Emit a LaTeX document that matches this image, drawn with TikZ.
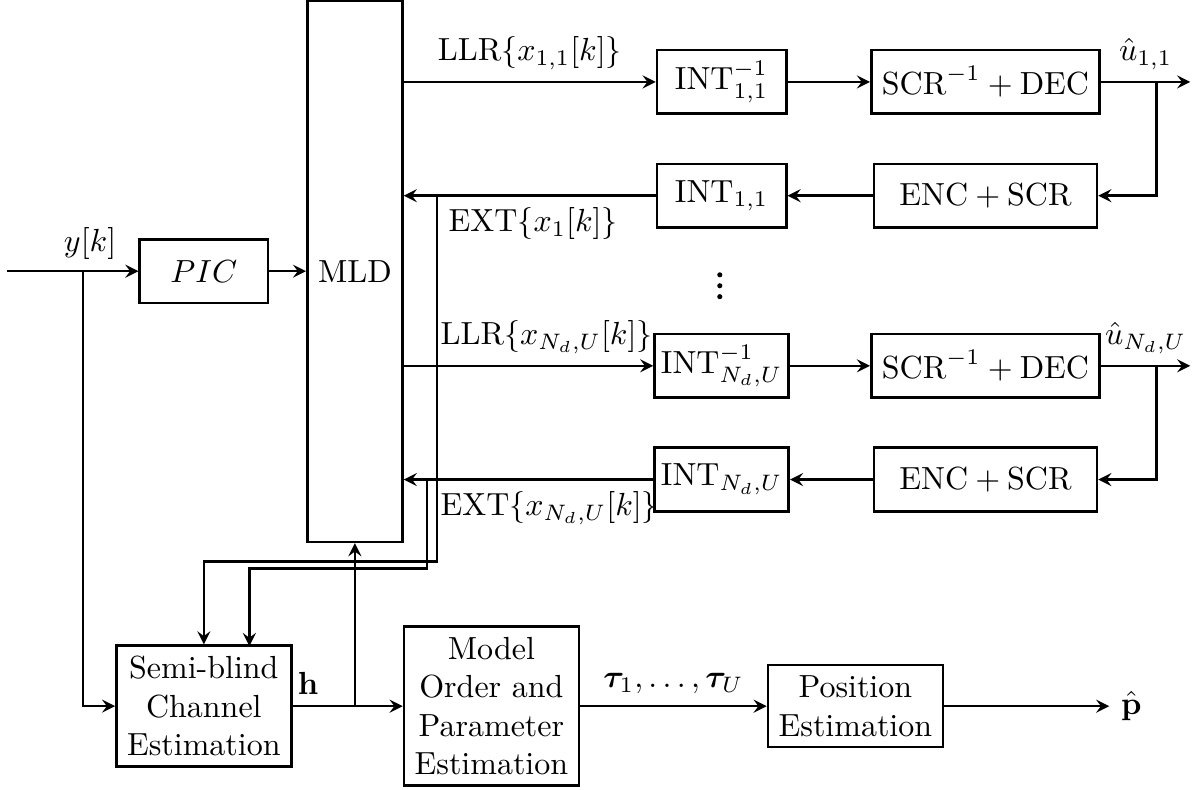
\documentclass[tikz,border=0pt]{standalone}
\usepackage{amsmath}
\usepackage{bm}
\usetikzlibrary{positioning}

\begin{document}
\begin{tikzpicture}[thick, >=stealth,
		block/.style={draw, align=center, minimum height=0.7cm},
		intbox/.style={block, inner xsep=2pt, minimum width=1.42cm},
		decbox/.style={block, minimum width=2.45cm},
		bigdot/.style={fill, circle, inner sep=0pt, minimum size=1.6pt}]
	\useasboundingbox (0,0) rectangle (13.22,8.68);

	% front end
	\coordinate (in) at (0.08,5.70);
	\coordinate (ysplit) at (0.91,5.70);
	\node[block, minimum width=1.41cm] (pic) at (2.24,5.70) {$PIC$};
	\node[draw, minimum width=1.02cm, minimum height=5.95cm] (mld) at (3.90,5.70) {MLD};
	\draw[->] (in) -- (pic);
	\node[above] (ylab) at (0.99,5.70) {$y[k]$};
	\draw[->] (pic) -- (mld);

	% decoder branches of the first and the last stream
	\foreach \r/\yf/\yb/\s in {a/7.78/6.53/{1,1}, b/4.66/3.41/{N_d,U}}{
		\node[intbox] (dint\r) at (7.93,\yf) {$\mathrm{INT}^{-1}_{\s}$};
		\node[decbox] (dec\r) at (10.83,\yf) {$\mathrm{SCR}^{-1}+\mathrm{DEC}$};
		\node[decbox] (enc\r) at (10.83,\yb) {$\mathrm{ENC}+\mathrm{SCR}$};
		\node[intbox] (int\r) at (7.93,\yb) {$\mathrm{INT}_{\s}$};
		\coordinate (fb\r) at (12.71,\yf);
		\coordinate (out\r) at (13.08,\yf);
		\draw[->] (dint\r) -- (dec\r);
		\draw[->] (dec\r) -- node[above]{$\hat{u}_{\s}$} (out\r);
		\draw[->] (fb\r) |- (enc\r);
		\draw[->] (enc\r) -- (int\r);
		\draw[->] (int\r) -- (mld.east |- int\r);
	}
	\draw[->] (mld.east |- dinta) -- node[above]{$\mathrm{LLR}\{x_{1,1}[k]\}$} (dinta);
	\draw[->] (mld.east |- dintb) -- (dintb);
	\node[above right, inner xsep=0.5pt] (llrb) at (4.81,4.66) {$\mathrm{LLR}\{x_{N_d,U}[k]\}$};
	\node[below right] (exta) at (4.80,6.53) {$\mathrm{EXT}\{x_1[k]\}$};
	\node[below right, inner xsep=0.5pt] (extb) at (4.81,3.41) {$\mathrm{EXT}\{x_{N_d,U}[k]\}$};
	\foreach \d in {0,1,2}
		\node[bigdot] (dot\d) at (7.91,5.66-0.12*\d) {};

	% channel and position estimation
	\node[block] (semi) at (2.24,0.92) {Semi-blind\\Channel\\Estimation};
	\node[block] (model) at (5.40,0.92) {Model\\Order and\\Parameter\\Estimation};
	\node[block] (pos) at (9.40,0.92) {Position\\Estimation};
	\coordinate (hsplit) at (3.90,0.92);
	\coordinate (pout) at (12.19,0.92);

	% extrinsic feedback into the channel estimator
	\coordinate (xa) at (4.80,6.53);
	\coordinate (xb) at (4.69,3.41);
	\coordinate (ka) at (4.80,2.51);
	\coordinate (kb) at (4.69,2.43);
	\coordinate (sb) at (2.74,1.58);
	\draw[->] (xa) -- (ka) -| (semi.north);
	\draw[->] (xb) -- (kb) -| (sb);

	\draw[->] (ysplit) |- (semi);
	\draw (semi) -- node[above, near start]{$\mathbf{h}$} (hsplit);
	\draw[->] (hsplit) -- (model);
	\draw[->] (hsplit) -- (mld.south);
	\draw[->] (model) -- node[above]{$\bm{\tau}_1,\ldots,\bm{\tau}_U$} (pos);
	\draw[->] (pos) -- (pout) node[right]{$\hat{\mathbf{p}}$};
\end{tikzpicture}
\end{document}
